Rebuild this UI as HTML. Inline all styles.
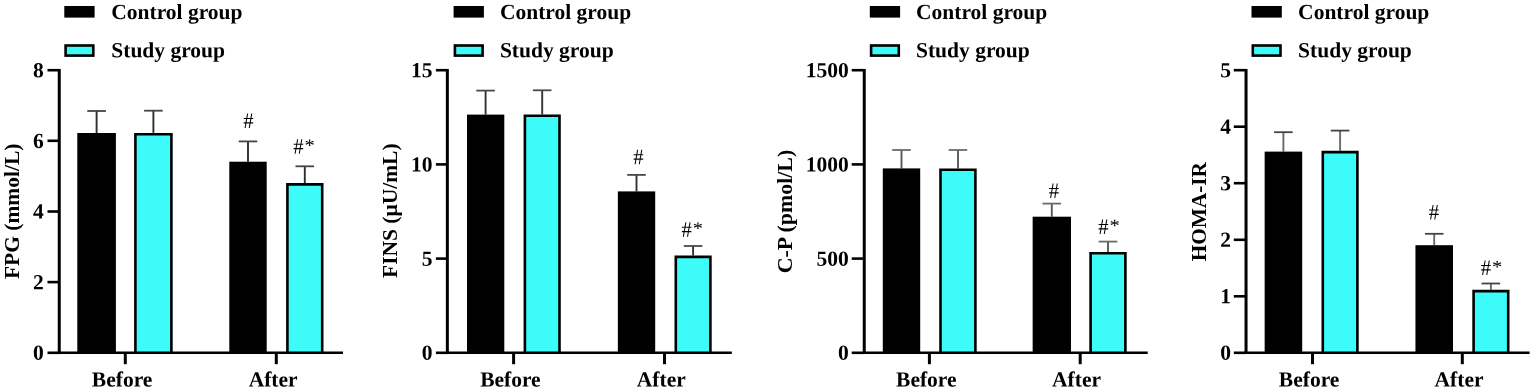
<!DOCTYPE html>
<html lang="en"><head><meta charset="utf-8"><title>Figure</title>
<style>
html,body{margin:0;padding:0;background:#fff;}
svg{display:block;}
text{font-family:"Liberation Serif",serif;fill:#000;}
.b{font-weight:bold;font-size:21.5px;}
.s{font-size:20.6px;}
</style></head><body>
<svg width="1535" height="392" viewBox="0 0 1535 392">
<rect width="1535" height="392" fill="#fff"/>

<g>
<rect x="64.3" y="6.0" width="30.3" height="11.6" fill="#000"/>
<rect x="65.6" y="45.5" width="27.7" height="10.1" fill="#3cfbf9" stroke="#000" stroke-width="2.6"/>
<text class="b" transform="translate(111.30 18.90) rotate(0.03)" text-anchor="start">Control group</text>
<text class="b" transform="translate(111.30 57.20) rotate(0.03)" text-anchor="start">Study group</text>
<path d="M96.6 133.0V111.0" stroke="#2e2e2e" stroke-width="1.9" fill="none"/>
<path d="M87.3 111.0H105.9" stroke="#444" stroke-width="1.8" fill="none"/>
<rect x="77.30" y="133.0" width="38.60" height="219.8" fill="#000"/>
<path d="M153.4 132.9V110.7" stroke="#2e2e2e" stroke-width="1.9" fill="none"/>
<path d="M144.1 110.7H162.7" stroke="#444" stroke-width="1.8" fill="none"/>
<rect x="135.40" y="134.2" width="36.00" height="218.6" fill="#3cfbf9"/>
<path d="M135.40 352.8V134.2H171.40V352.8" fill="none" stroke="#000" stroke-width="2.6"/>
<path d="M248.0 161.7V141.4" stroke="#2e2e2e" stroke-width="1.9" fill="none"/>
<path d="M238.7 141.4H257.3" stroke="#444" stroke-width="1.8" fill="none"/>
<rect x="229.30" y="161.7" width="37.40" height="191.1" fill="#000"/>
<path d="M304.8 183.1V166.3" stroke="#2e2e2e" stroke-width="1.9" fill="none"/>
<path d="M295.5 166.3H314.1" stroke="#444" stroke-width="1.8" fill="none"/>
<rect x="287.40" y="184.4" width="34.80" height="168.4" fill="#3cfbf9"/>
<path d="M287.40 352.8V184.4H322.20V352.8" fill="none" stroke="#000" stroke-width="2.6"/>
<path d="M59.25 68.9V354.1" stroke="#000" stroke-width="3.0" fill="none"/>
<path d="M57.75 352.8H343.0" stroke="#000" stroke-width="2.6" fill="none"/>
<path d="M47.5 352.8H59.5" stroke="#000" stroke-width="2.6"/>
<text class="b" transform="translate(43.65 359.85) rotate(0.03)" text-anchor="end">0</text>
<path d="M47.5 282.1H59.5" stroke="#000" stroke-width="2.6"/>
<text class="b" transform="translate(43.65 289.20) rotate(0.03)" text-anchor="end">2</text>
<path d="M47.5 211.5H59.5" stroke="#000" stroke-width="2.6"/>
<text class="b" transform="translate(43.65 218.55) rotate(0.03)" text-anchor="end">4</text>
<path d="M47.5 140.8H59.5" stroke="#000" stroke-width="2.6"/>
<text class="b" transform="translate(43.65 147.90) rotate(0.03)" text-anchor="end">6</text>
<path d="M47.5 70.2H59.5" stroke="#000" stroke-width="2.6"/>
<text class="b" transform="translate(43.65 77.25) rotate(0.03)" text-anchor="end">8</text>
<path d="M125.3 352.8V364.2" stroke="#000" stroke-width="3.0"/>
<text class="b" transform="translate(122.10 386.50) rotate(0.03)" text-anchor="middle">Before</text>
<path d="M276.3 352.8V364.2" stroke="#000" stroke-width="3.0"/>
<text class="b" transform="translate(273.10 386.50) rotate(0.03)" text-anchor="middle">After</text>
<text class="b" transform="translate(19.1 211.3) rotate(-90) scale(1.00 0.95)" text-anchor="middle">FPG (mmol/L)</text>
<text class="s" transform="translate(243.25 128.00) rotate(0.03) scale(1 1.07)">#</text>
<text class="s" transform="translate(293.30 153.80) rotate(0.03) scale(1 1.07)">#</text>
<text class="s" transform="translate(304.50 151.10) rotate(0.03) scale(1 0.85)">*</text>
</g>
<g>
<rect x="453.6" y="6.0" width="30.3" height="11.6" fill="#000"/>
<rect x="454.9" y="45.5" width="27.7" height="10.1" fill="#3cfbf9" stroke="#000" stroke-width="2.6"/>
<text class="b" transform="translate(499.90 18.90) rotate(0.03)" text-anchor="start">Control group</text>
<text class="b" transform="translate(499.90 57.20) rotate(0.03)" text-anchor="start">Study group</text>
<path d="M485.6 114.6V90.6" stroke="#333" stroke-width="1.9" fill="none"/>
<path d="M476.3 90.6H494.9" stroke="#484848" stroke-width="1.8" fill="none"/>
<rect x="467.00" y="114.6" width="37.30" height="238.2" fill="#000"/>
<path d="M542.2 114.4V90.3" stroke="#333" stroke-width="1.9" fill="none"/>
<path d="M532.9 90.3H551.5" stroke="#484848" stroke-width="1.8" fill="none"/>
<rect x="524.90" y="115.7" width="34.60" height="237.1" fill="#3cfbf9"/>
<path d="M524.90 352.8V115.7H559.50V352.8" fill="none" stroke="#000" stroke-width="2.6"/>
<path d="M636.5 191.4V174.9" stroke="#333" stroke-width="1.9" fill="none"/>
<path d="M627.2 174.9H645.8" stroke="#484848" stroke-width="1.8" fill="none"/>
<rect x="617.85" y="191.4" width="37.35" height="161.4" fill="#000"/>
<path d="M693.1 255.6V246.0" stroke="#333" stroke-width="1.9" fill="none"/>
<path d="M683.8 246.0H702.4" stroke="#484848" stroke-width="1.8" fill="none"/>
<rect x="675.80" y="256.9" width="34.60" height="95.9" fill="#3cfbf9"/>
<path d="M675.80 352.8V256.9H710.40V352.8" fill="none" stroke="#000" stroke-width="2.6"/>
<path d="M447.35 68.9V354.1" stroke="#000" stroke-width="3.0" fill="none"/>
<path d="M445.85 352.8H731.8" stroke="#000" stroke-width="2.6" fill="none"/>
<path d="M435.9 352.8H447.6" stroke="#000" stroke-width="2.6"/>
<text class="b" transform="translate(432.50 359.85) rotate(0.03)" text-anchor="end">0</text>
<path d="M435.9 258.6H447.6" stroke="#000" stroke-width="2.6"/>
<text class="b" transform="translate(432.50 265.65) rotate(0.03)" text-anchor="end">5</text>
<path d="M435.9 164.4H447.6" stroke="#000" stroke-width="2.6"/>
<text class="b" transform="translate(432.50 171.45) rotate(0.03)" text-anchor="end">10</text>
<path d="M435.9 70.2H447.6" stroke="#000" stroke-width="2.6"/>
<text class="b" transform="translate(432.50 77.25) rotate(0.03)" text-anchor="end">15</text>
<path d="M513.6 352.8V364.2" stroke="#000" stroke-width="3.0"/>
<text class="b" transform="translate(510.40 386.50) rotate(0.03)" text-anchor="middle">Before</text>
<path d="M664.5 352.8V364.2" stroke="#000" stroke-width="3.0"/>
<text class="b" transform="translate(661.30 386.50) rotate(0.03)" text-anchor="middle">After</text>
<text class="b" transform="translate(396.6 210.7) rotate(-90) scale(1.00 0.98)" text-anchor="middle">FINS (μU/mL)</text>
<text class="s" transform="translate(633.25 164.30) rotate(0.03) scale(1 1.07)">#</text>
<text class="s" transform="translate(681.50 236.80) rotate(0.03) scale(1 1.07)">#</text>
<text class="s" transform="translate(692.70 234.10) rotate(0.03) scale(1 0.85)">*</text>
</g>
<g>
<rect x="869.8" y="6.0" width="30.3" height="11.6" fill="#000"/>
<rect x="871.1" y="45.5" width="27.7" height="10.1" fill="#3cfbf9" stroke="#000" stroke-width="2.6"/>
<text class="b" transform="translate(916.00 18.90) rotate(0.03)" text-anchor="start">Control group</text>
<text class="b" transform="translate(916.00 57.20) rotate(0.03)" text-anchor="start">Study group</text>
<path d="M901.5 168.4V150.0" stroke="#585858" stroke-width="1.9" fill="none"/>
<path d="M892.2 150.0H910.8" stroke="#6a6a6a" stroke-width="1.8" fill="none"/>
<rect x="882.80" y="168.4" width="37.40" height="184.4" fill="#000"/>
<path d="M958.0 168.5V150.0" stroke="#585858" stroke-width="1.9" fill="none"/>
<path d="M948.7 150.0H967.2" stroke="#6a6a6a" stroke-width="1.8" fill="none"/>
<rect x="940.50" y="169.8" width="34.90" height="183.0" fill="#3cfbf9"/>
<path d="M940.50 352.8V169.8H975.40V352.8" fill="none" stroke="#000" stroke-width="2.6"/>
<path d="M1051.8 216.7V203.6" stroke="#585858" stroke-width="1.9" fill="none"/>
<path d="M1042.5 203.6H1061.1" stroke="#6a6a6a" stroke-width="1.8" fill="none"/>
<rect x="1032.65" y="216.7" width="38.35" height="136.1" fill="#000"/>
<path d="M1108.0 252.0V241.6" stroke="#585858" stroke-width="1.9" fill="none"/>
<path d="M1098.7 241.6H1117.3" stroke="#6a6a6a" stroke-width="1.8" fill="none"/>
<rect x="1090.60" y="253.3" width="34.80" height="99.5" fill="#3cfbf9"/>
<path d="M1090.60 352.8V253.3H1125.40V352.8" fill="none" stroke="#000" stroke-width="2.6"/>
<path d="M864.25 68.9V354.1" stroke="#000" stroke-width="3.0" fill="none"/>
<path d="M862.75 352.8H1147.7" stroke="#000" stroke-width="2.6" fill="none"/>
<path d="M851.7 352.8H864.5" stroke="#000" stroke-width="2.6"/>
<text class="b" transform="translate(848.70 359.85) rotate(0.03)" text-anchor="end">0</text>
<path d="M851.7 258.6H864.5" stroke="#000" stroke-width="2.6"/>
<text class="b" transform="translate(848.70 265.65) rotate(0.03)" text-anchor="end">500</text>
<path d="M851.7 164.4H864.5" stroke="#000" stroke-width="2.6"/>
<text class="b" transform="translate(848.70 171.45) rotate(0.03)" text-anchor="end">1000</text>
<path d="M851.7 70.2H864.5" stroke="#000" stroke-width="2.6"/>
<text class="b" transform="translate(848.70 77.25) rotate(0.03)" text-anchor="end">1500</text>
<path d="M929.4 352.8V364.2" stroke="#000" stroke-width="3.0"/>
<text class="b" transform="translate(926.30 386.50) rotate(0.03)" text-anchor="middle">Before</text>
<path d="M1080.2 352.8V364.2" stroke="#000" stroke-width="3.0"/>
<text class="b" transform="translate(1076.50 386.50) rotate(0.03)" text-anchor="middle">After</text>
<text class="b" transform="translate(792.2 211.5) rotate(-90) scale(1.02 1.00)" text-anchor="middle">C-P (pmol/L)</text>
<text class="s" transform="translate(1048.85 198.10) rotate(0.03) scale(1 1.07)">#</text>
<text class="s" transform="translate(1098.30 233.90) rotate(0.03) scale(1 1.07)">#</text>
<text class="s" transform="translate(1109.50 231.20) rotate(0.03) scale(1 0.85)">*</text>
</g>
<g>
<rect x="1251.5" y="6.0" width="30.3" height="11.6" fill="#000"/>
<rect x="1252.8" y="45.5" width="27.7" height="10.1" fill="#3cfbf9" stroke="#000" stroke-width="2.6"/>
<text class="b" transform="translate(1298.10 18.90) rotate(0.03)" text-anchor="start">Control group</text>
<text class="b" transform="translate(1298.10 57.20) rotate(0.03)" text-anchor="start">Study group</text>
<path d="M1283.4 151.6V132.2" stroke="#6a6a6a" stroke-width="1.9" fill="none"/>
<path d="M1274.1 132.2H1292.7" stroke="#444" stroke-width="1.8" fill="none"/>
<rect x="1264.65" y="151.6" width="37.55" height="201.2" fill="#000"/>
<path d="M1340.1 150.8V130.6" stroke="#6a6a6a" stroke-width="1.9" fill="none"/>
<path d="M1330.8 130.6H1349.4" stroke="#444" stroke-width="1.8" fill="none"/>
<rect x="1322.80" y="152.1" width="34.60" height="200.7" fill="#3cfbf9"/>
<path d="M1322.80 352.8V152.1H1357.40V352.8" fill="none" stroke="#000" stroke-width="2.6"/>
<path d="M1434.2 245.2V233.8" stroke="#6a6a6a" stroke-width="1.9" fill="none"/>
<path d="M1424.9 233.8H1443.5" stroke="#444" stroke-width="1.8" fill="none"/>
<rect x="1415.45" y="245.2" width="37.55" height="107.6" fill="#000"/>
<path d="M1490.9 289.8V283.5" stroke="#6a6a6a" stroke-width="1.9" fill="none"/>
<path d="M1481.6 283.5H1500.2" stroke="#444" stroke-width="1.8" fill="none"/>
<rect x="1473.60" y="291.1" width="34.60" height="61.7" fill="#3cfbf9"/>
<path d="M1473.60 352.8V291.1H1508.20V352.8" fill="none" stroke="#000" stroke-width="2.6"/>
<path d="M1246.05 68.9V354.1" stroke="#000" stroke-width="3.0" fill="none"/>
<path d="M1244.55 352.8H1529.6" stroke="#000" stroke-width="2.6" fill="none"/>
<path d="M1233.8 352.8H1246.3" stroke="#000" stroke-width="2.6"/>
<text class="b" transform="translate(1230.95 359.85) rotate(0.03)" text-anchor="end">0</text>
<path d="M1233.8 296.3H1246.3" stroke="#000" stroke-width="2.6"/>
<text class="b" transform="translate(1230.95 303.33) rotate(0.03)" text-anchor="end">1</text>
<path d="M1233.8 239.8H1246.3" stroke="#000" stroke-width="2.6"/>
<text class="b" transform="translate(1230.95 246.81) rotate(0.03)" text-anchor="end">2</text>
<path d="M1233.8 183.2H1246.3" stroke="#000" stroke-width="2.6"/>
<text class="b" transform="translate(1230.95 190.29) rotate(0.03)" text-anchor="end">3</text>
<path d="M1233.8 126.7H1246.3" stroke="#000" stroke-width="2.6"/>
<text class="b" transform="translate(1230.95 133.77) rotate(0.03)" text-anchor="end">4</text>
<path d="M1233.8 70.2H1246.3" stroke="#000" stroke-width="2.6"/>
<text class="b" transform="translate(1230.95 77.25) rotate(0.03)" text-anchor="end">5</text>
<path d="M1312.5 352.8V364.2" stroke="#000" stroke-width="3.0"/>
<text class="b" transform="translate(1309.10 386.50) rotate(0.03)" text-anchor="middle">Before</text>
<path d="M1462.3 352.8V364.2" stroke="#000" stroke-width="3.0"/>
<text class="b" transform="translate(1459.00 386.50) rotate(0.03)" text-anchor="middle">After</text>
<text class="b" transform="translate(1206.2 211.7) rotate(-90) scale(0.99 1.00)" text-anchor="middle">HOMA-IR</text>
<text class="s" transform="translate(1428.75 219.60) rotate(0.03) scale(1 1.07)">#</text>
<text class="s" transform="translate(1480.70 275.10) rotate(0.03) scale(1 1.07)">#</text>
<text class="s" transform="translate(1491.90 272.40) rotate(0.03) scale(1 0.85)">*</text>
</g>
</svg>
</body></html>
